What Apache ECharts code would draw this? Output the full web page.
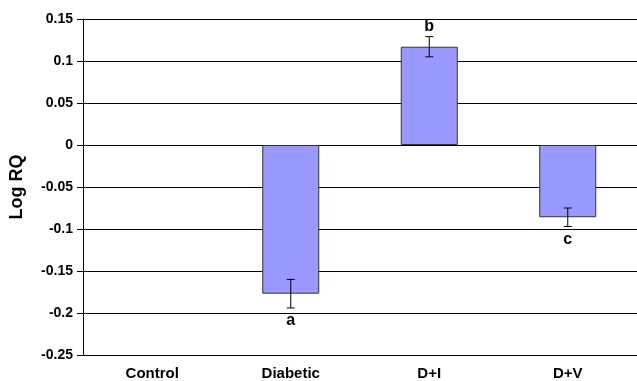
<!DOCTYPE html>
<html>
<head>
<meta charset="utf-8">
<script src="https://cdn.jsdelivr.net/npm/echarts@6/dist/echarts.min.js"></script>
<style>
  html, body { margin: 0; padding: 0; background: #fff; }
  #chart { width: 637px; height: 381px; }
</style>
</head>
<body>
<div id="chart"></div>
<script>
// Groups and measured log relative quantities
const categories = ['Control', 'Diabetic', 'D+I', 'D+V'];
const logRQ = [0, -0.177, 0.117, -0.086];
const errors = [0, 0.017, 0.012, 0.011];
const letters = ['', 'a', 'b', 'c'];

const FONT = '"Liberation Sans", Arial, Helvetica, sans-serif';

const chart = echarts.init(document.getElementById('chart'));

chart.setOption({
  animation: false,
  grid: { left: 83, top: 19, width: 562, height: 336, containLabel: false },
  xAxis: {
    type: 'category',
    data: categories,
    axisLine: { onZero: false, lineStyle: { color: '#000', width: 1 } },
    axisTick: { show: false },
    axisLabel: { color: '#000', fontFamily: FONT, fontWeight: 'bold', fontSize: 15, margin: 11 },
    splitLine: { show: false }
  },
  yAxis: {
    type: 'value',
    min: -0.25,
    max: 0.15,
    interval: 0.05,
    name: 'Log RQ',
    nameLocation: 'middle',
    nameGap: 57,
    nameTextStyle: { color: '#000', fontFamily: FONT, fontWeight: 'bold', fontSize: 18 },
    axisLine: { show: true, lineStyle: { color: '#000', width: 1 } },
    axisTick: { show: true, length: 6, lineStyle: { color: '#000' } },
    axisLabel: {
      color: '#000', fontFamily: FONT, fontWeight: 'bold', fontSize: 14, margin: 10,
      formatter: v => {
        const r = Math.round(v * 100) / 100;
        return r === 0 ? '0' : String(r);
      }
    },
    splitLine: { show: true, lineStyle: { color: '#000', width: 1 } }
  },
  series: [
    {
      type: 'bar',
      data: logRQ.map(v => v === 0 ? { value: v, itemStyle: { borderWidth: 0 } } : v),
      barWidth: 57,
      itemStyle: { color: '#9999FF', borderColor: '#333', borderWidth: 1 },
      z: 2
    },
    {
      // Error bars with significance letters
      type: 'custom',
      z: 3,
      data: logRQ.map((v, i) => [i, v, errors[i]]),
      renderItem: (params, api) => {
        const i = api.value(0);
        const v = api.value(1);
        const e = api.value(2);
        const letter = letters[i];
        if (!e) return { type: 'group', children: [] };
        const hi = api.coord([i, v + e]);
        const lo = api.coord([i, v - e]);
        const x = hi[0];
        const cap = 4;
        const style = { stroke: '#000', lineWidth: 1 };
        const children = [
          { type: 'line', shape: { x1: x, y1: hi[1], x2: x, y2: lo[1] }, style },
          { type: 'line', shape: { x1: x - cap, y1: hi[1], x2: x + cap, y2: hi[1] }, style },
          { type: 'line', shape: { x1: x - cap, y1: lo[1], x2: x + cap, y2: lo[1] }, style }
        ];
        if (letter) {
          const above = v > 0;
          children.push({
            type: 'text',
            style: {
              text: letter,
              x: x,
              y: above ? hi[1] - 2 : lo[1] + 5,
              align: 'center',
              verticalAlign: above ? 'bottom' : 'top',
              fill: '#000',
              font: 'bold 16px ' + FONT
            }
          });
        }
        return { type: 'group', children };
      }
    }
  ]
});
</script>
</body>
</html>
